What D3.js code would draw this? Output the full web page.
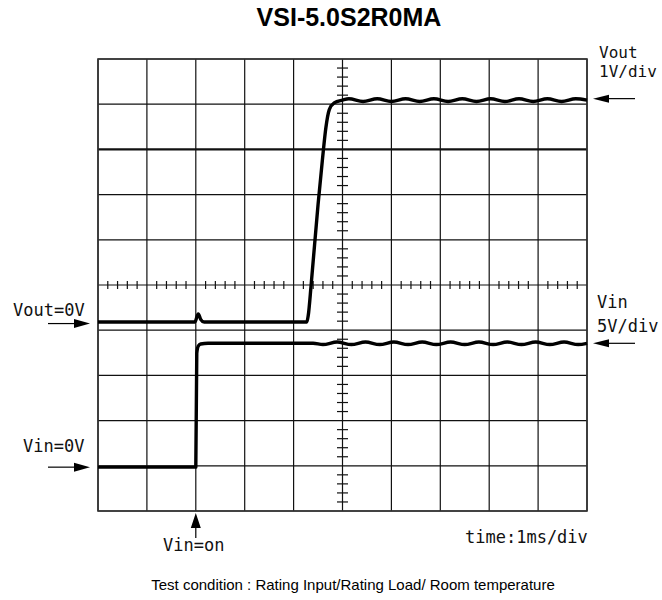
<!DOCTYPE html>
<html>
<head>
<meta charset="utf-8">
<script src="https://cdn.jsdelivr.net/npm/d3@7"></script>
<style>
  body { margin: 0; background: #fff; }
  .mono { font-family: "DejaVu Sans Mono", monospace; font-size: 17px; fill: #111; }
</style>
</head>
<body>
<div id="chart"></div>
<script>
// time in ms, 1 ms per division
const voutTime = [0, 1.98, 2.05, 2.10, 2.17, 4.27, 4.30, 4.36, 4.50, 4.59, 4.66, 4.73, 4.83, 5.0,
  5.13, 5.42, 5.71, 6.0, 6.29, 6.58, 6.87, 7.16, 7.45, 7.74, 8.03, 8.32, 8.61, 8.9, 9.19, 9.48, 9.77, 10];
const voutValue = [0, 0, 0.18, 0.06, 0, 0, 0.15, 0.84, 2.6, 3.6, 4.3, 4.7, 4.85, 4.91,
  4.94, 4.88, 4.94, 4.88, 4.94, 4.88, 4.94, 4.88, 4.94, 4.88, 4.94, 4.88, 4.94, 4.88, 4.94, 4.88, 4.94, 4.91];

const vinTime = [0, 2.0, 2.02, 2.05, 2.10, 2.25, 4.4, 4.6, 4.89, 5.18, 5.47, 5.76, 6.05, 6.34, 6.63,
  6.92, 7.21, 7.5, 7.79, 8.08, 8.37, 8.66, 8.95, 9.24, 9.53, 9.82, 10];
const vinValue = [0, 0, 12.6, 13.4, 13.62, 13.7, 13.7, 13.56, 13.84, 13.56, 13.84, 13.56, 13.84, 13.56, 13.84,
  13.56, 13.84, 13.56, 13.84, 13.56, 13.84, 13.56, 13.84, 13.56, 13.84, 13.56, 13.7];

const voutPerDiv = 1, vinPerDiv = 5;      // V/div
const voutZeroDiv = 4.18, vinZeroDiv = 0.97; // ground level, divisions from bottom

const title = "VSI-5.0S2R0MA";
const footNote = "Test condition : Rating Input/Rating Load/ Room temperature";

const W = 662, H = 600;
const x = d3.scaleLinear().domain([0, 10]).range([98, 587]);
const y = d3.scaleLinear().domain([0, 10]).range([511, 59]);
const yOut = v => y(voutZeroDiv + v / voutPerDiv);
const yIn = v => y(vinZeroDiv + v / vinPerDiv);

const svg = d3.select("#chart").append("svg")
  .attr("width", W).attr("height", H);

svg.append("text")
  .attr("x", 349).attr("y", 26)
  .attr("text-anchor", "middle")
  .style("font-family", "'Liberation Sans', Arial, sans-serif")
  .style("font-weight", "bold").style("font-size", "25px")
  .text(title);

// grid
const divs = d3.range(0, 11);
const grid = svg.append("g").attr("stroke", "#111").attr("fill", "none");
grid.selectAll(".v").data(divs).enter().append("line")
  .attr("x1", d => x(d)).attr("x2", d => x(d))
  .attr("y1", y(0)).attr("y2", y(10))
  .attr("stroke-width", 1.2);
grid.selectAll(".h").data(divs).enter().append("line")
  .attr("y1", d => y(d)).attr("y2", d => y(d))
  .attr("x1", x(0)).attr("x2", x(10))
  .attr("stroke-width", d => d === 8 ? 2.2 : 1.2);
grid.append("rect")
  .attr("x", x(0)).attr("y", y(10))
  .attr("width", x(10) - x(0)).attr("height", y(0) - y(10))
  .attr("stroke-width", 1.6).attr("stroke", "#333");

// minor ticks on the centre lines
const minor = d3.range(0, 10.01, 0.2).filter(d => Math.abs(d - Math.round(d)) > 0.01);
grid.selectAll(".mx").data(minor).enter().append("line")
  .attr("x1", d => x(d)).attr("x2", d => x(d))
  .attr("y1", y(5) - 4).attr("y2", y(5) + 4).attr("stroke-width", 1.2);
grid.selectAll(".my").data(minor).enter().append("line")
  .attr("y1", d => y(d)).attr("y2", d => y(d))
  .attr("x1", x(5) - 5.5).attr("x2", x(5) + 5.5).attr("stroke-width", 1.2);

// traces
const line = d3.line().curve(d3.curveMonotoneX);
svg.append("path")
  .attr("d", line(vinTime.map((t, i) => [x(t), yIn(vinValue[i])])))
  .attr("fill", "none").attr("stroke", "#000").attr("stroke-width", 3.4)
  .attr("stroke-linejoin", "round");
svg.append("path")
  .attr("d", line(voutTime.map((t, i) => [x(t), yOut(voutValue[i])])))
  .attr("fill", "none").attr("stroke", "#000").attr("stroke-width", 3.4)
  .attr("stroke-linejoin", "round");

// arrows
function arrow(x1, y1, x2, y2, len, half) {
  const a = Math.atan2(y2 - y1, x2 - x1);
  const bx = x2 - len * Math.cos(a), by = y2 - len * Math.sin(a);
  svg.append("line").attr("x1", x1).attr("y1", y1).attr("x2", bx).attr("y2", by)
    .attr("stroke", "#000").attr("stroke-width", 1.2);
  const px = -Math.sin(a) * half, py = Math.cos(a) * half;
  svg.append("path")
    .attr("d", `M${x2},${y2}L${bx + px},${by + py}L${bx - px},${by - py}Z`)
    .attr("fill", "#000");
}
arrow(48, yOut(0) + 1.5, 90, yOut(0) + 1.5, 16, 4.5);
arrow(48, yIn(0), 90, yIn(0), 16, 4.5);
arrow(635, yOut(4.91) - 1.5, 593, yOut(4.91) - 1.5, 16, 4);
arrow(635, yIn(13.7), 593, yIn(13.7), 16, 4);
arrow(x(2), 538, x(2), 513, 15, 5);

// labels
const labels = [
  { t: "Vout=0V", x: 13, y: 316, s: 17 },
  { t: "Vin=0V", x: 23, y: 452, s: 17 },
  { t: "Vout", x: 599, y: 58, s: 16 },
  { t: "1V/div", x: 599, y: 77, s: 16 },
  { t: "Vin", x: 597, y: 308, s: 17 },
  { t: "5V/div", x: 597, y: 332, s: 17 },
  { t: "Vin=on", x: 163, y: 551, s: 17 },
  { t: "time:1ms/div", x: 465, y: 543, s: 17 }
];
svg.selectAll(".lbl").data(labels).enter().append("text")
  .attr("class", "mono")
  .attr("x", d => d.x).attr("y", d => d.y)
  .style("font-size", d => d.s + "px")
  .text(d => d.t);

svg.append("text")
  .attr("x", 353).attr("y", 590)
  .attr("text-anchor", "middle")
  .style("font-family", "'Liberation Sans', Arial, sans-serif")
  .style("font-size", "15px")
  .text(footNote);
</script>
</body>
</html>
